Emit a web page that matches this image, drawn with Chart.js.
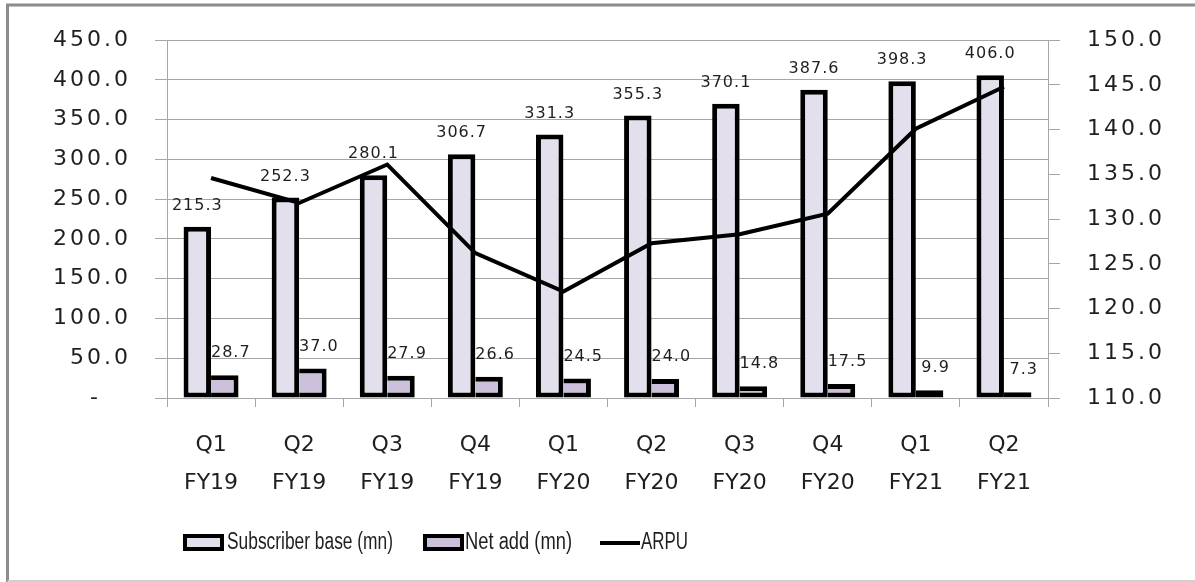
<!DOCTYPE html>
<html>
<head>
<meta charset="utf-8">
<script src="https://cdn.jsdelivr.net/npm/chart.js@4.4.1/dist/chart.umd.min.js"></script>
<style>
  html, body { margin: 0; padding: 0; background: #fff; }
  #c { display: block; }
</style>
</head>
<body>
<canvas id="c" width="1195" height="582"></canvas>
<script>
const quarters = ['Q1', 'Q2', 'Q3', 'Q4', 'Q1', 'Q2', 'Q3', 'Q4', 'Q1', 'Q2'];
const fiscalYears = ['FY19', 'FY19', 'FY19', 'FY19', 'FY20', 'FY20', 'FY20', 'FY20', 'FY21', 'FY21'];
const subscriberBase = [215.3, 252.3, 280.1, 306.7, 331.3, 355.3, 370.1, 387.6, 398.3, 406.0];
const netAdd = [28.7, 37.0, 27.9, 26.6, 24.5, 24.0, 14.8, 17.5, 9.9, 7.3];
const arpu = [134.6, 131.8, 136.1, 126.2, 121.9, 127.3, 128.3, 130.6, 140.1, 144.8];
const leftTicks = [0, 50, 100, 150, 200, 250, 300, 350, 400, 450];
const rightTicks = [110, 115, 120, 125, 130, 135, 140, 145, 150];
const seriesNames = ['Subscriber base (mn)', 'Net add (mn)', 'ARPU'];

const labels = quarters.map((q, i) => [q, fiscalYears[i]]);
const GRID = '#a6a6a6';
const TEXT = '#1f1f1f';
const FILL1 = '#e4dfec';
const FILL2 = '#ccc0da';

const framePlugin = {
  id: 'frame',
  beforeDraw(chart) {
    const ctx = chart.ctx;
    ctx.save();
    ctx.fillStyle = '#fff';
    ctx.fillRect(0, 0, chart.width, chart.height);
    ctx.strokeStyle = '#8c8c8c';
    ctx.lineWidth = 3;
    ctx.beginPath();
    ctx.moveTo(7.5, chart.height);
    ctx.lineTo(7.5, 5);
    ctx.lineTo(chart.width, 5);
    ctx.stroke();
    ctx.strokeStyle = '#d0d0d0';
    ctx.lineWidth = 2;
    ctx.beginPath();
    ctx.moveTo(7.5, 581);
    ctx.lineTo(chart.width, 581);
    ctx.stroke();
    ctx.restore();
  }
};

const spacingPlugin = {
  id: 'tickSpacing',
  afterLayout(chart) {
    ['y', 'y1'].forEach(id => {
      const s = chart.scales[id];
      if (s && !s._spaced) {
        const orig = s.drawLabels;
        s.drawLabels = function (area) {
          const prev = this.ctx.letterSpacing;
          this.ctx.letterSpacing = '3px';
          orig.call(this, area);
          this.ctx.letterSpacing = prev;
        };
        s._spaced = true;
      }
    });
  }
};

const valueLabels = {
  id: 'valueLabels',
  afterDatasetsDraw(chart) {
    const ctx = chart.ctx;
    ctx.save();
    ctx.font = '16px "DejaVu Sans"';
    ctx.letterSpacing = '1px';
    ctx.fillStyle = TEXT;
    ctx.textAlign = 'center';
    ctx.textBaseline = 'middle';
    const m0 = chart.getDatasetMeta(0);
    m0.data.forEach((el, i) => {
      ctx.fillText(subscriberBase[i].toFixed(1), el.x, el.y - 21);
    });
    const m1 = chart.getDatasetMeta(1);
    m1.data.forEach((el, i) => {
      ctx.fillText(netAdd[i].toFixed(1), el.x + 6, el.y - 22);
    });
    ctx.restore();
  }
};

const legendPlugin = {
  id: 'customLegend',
  afterDraw(chart) {
    const ctx = chart.ctx;
    ctx.save();
    const cy = 543;
    ctx.font = '23px "Liberation Sans Narrow", "Liberation Sans", sans-serif';
    ctx.fillStyle = TEXT;
    ctx.textBaseline = 'middle';
    ctx.textAlign = 'left';
    ctx.lineWidth = 4;
    ctx.strokeStyle = '#000';
    // box 1
    ctx.fillStyle = FILL1;
    ctx.fillRect(185, cy - 7, 37, 13);
    ctx.strokeRect(185, cy - 7, 37, 13);
    ctx.fillStyle = TEXT;
    ctx.fillText(seriesNames[0], 227, cy, 166);
    // box 2
    ctx.fillStyle = FILL2;
    ctx.fillRect(425, cy - 7, 37, 13);
    ctx.strokeRect(425, cy - 7, 37, 13);
    ctx.fillStyle = TEXT;
    ctx.fillText(seriesNames[1], 465, cy, 107);
    // line
    ctx.beginPath();
    ctx.moveTo(600, cy);
    ctx.lineTo(640, cy);
    ctx.stroke();
    ctx.fillText(seriesNames[2], 641, cy, 47);
    ctx.restore();
  }
};

new Chart(document.getElementById('c'), {
  type: 'bar',
  data: {
    labels: labels,
    datasets: [
      {
        label: seriesNames[0],
        data: subscriberBase,
        backgroundColor: FILL1,
        borderColor: '#000',
        borderWidth: 5,
        borderSkipped: false,
        categoryPercentage: 0.624,
        barPercentage: 1.0,
        yAxisID: 'y',
        order: 1
      },
      {
        label: seriesNames[1],
        data: netAdd,
        backgroundColor: FILL2,
        borderColor: '#000',
        borderWidth: { top: 5, right: 5, bottom: 5, left: 0 },
        borderSkipped: false,
        categoryPercentage: 0.624,
        barPercentage: 1.0,
        yAxisID: 'y',
        order: 2
      },
      {
        type: 'line',
        label: seriesNames[2],
        data: arpu,
        borderColor: '#000',
        backgroundColor: '#000',
        borderWidth: 4,
        pointRadius: 0,
        tension: 0,
        fill: false,
        yAxisID: 'y1',
        order: 0
      }
    ]
  },
  options: {
    responsive: false,
    animation: false,
    devicePixelRatio: 1,
    layout: { padding: { top: 35, left: 0, right: 0, bottom: 0 } },
    plugins: {
      legend: { display: false },
      tooltip: { enabled: false },
      title: { display: false }
    },
    scales: {
      x: {
        offset: true,
        grid: { display: true, drawOnChartArea: false, offset: true, tickLength: 9, color: GRID, lineWidth: 1 },
        border: { display: true, color: GRID, width: 1 },
        ticks: {
          color: TEXT,
          font: { family: 'DejaVu Sans', size: 22, lineHeight: 1.75 },
          padding: 19,
          maxRotation: 0,
          autoSkip: false
        },
        afterFit(s) { s.height = 184; }
      },
      y: {
        position: 'left',
        min: leftTicks[0],
        max: leftTicks[leftTicks.length - 1],
        afterBuildTicks(s) { s.ticks = leftTicks.map(v => ({ value: v })); },
        grid: { color: GRID, lineWidth: 1, tickLength: 12, drawTicks: true },
        border: { display: true, color: GRID, width: 1 },
        ticks: {
          color: TEXT,
          font: { family: 'DejaVu Sans', size: 22 },
          padding: 24,
          callback: v => (v === 0 ? '-   ' : Number(v).toFixed(1))
        },
        afterFit(s) { s.width = 167; }
      },
      y1: {
        position: 'right',
        min: rightTicks[0],
        max: rightTicks[rightTicks.length - 1],
        afterBuildTicks(s) { s.ticks = rightTicks.map(v => ({ value: v })); },
        grid: { drawOnChartArea: false, color: GRID, lineWidth: 1, tickLength: 12 },
        border: { display: true, color: GRID, width: 1 },
        ticks: {
          color: TEXT,
          font: { family: 'DejaVu Sans', size: 22 },
          padding: 27,
          callback: v => Number(v).toFixed(1)
        },
        afterFit(s) { s.width = 147; }
      }
    }
  },
  plugins: [framePlugin, spacingPlugin, valueLabels, legendPlugin]
});
</script>
</body>
</html>
